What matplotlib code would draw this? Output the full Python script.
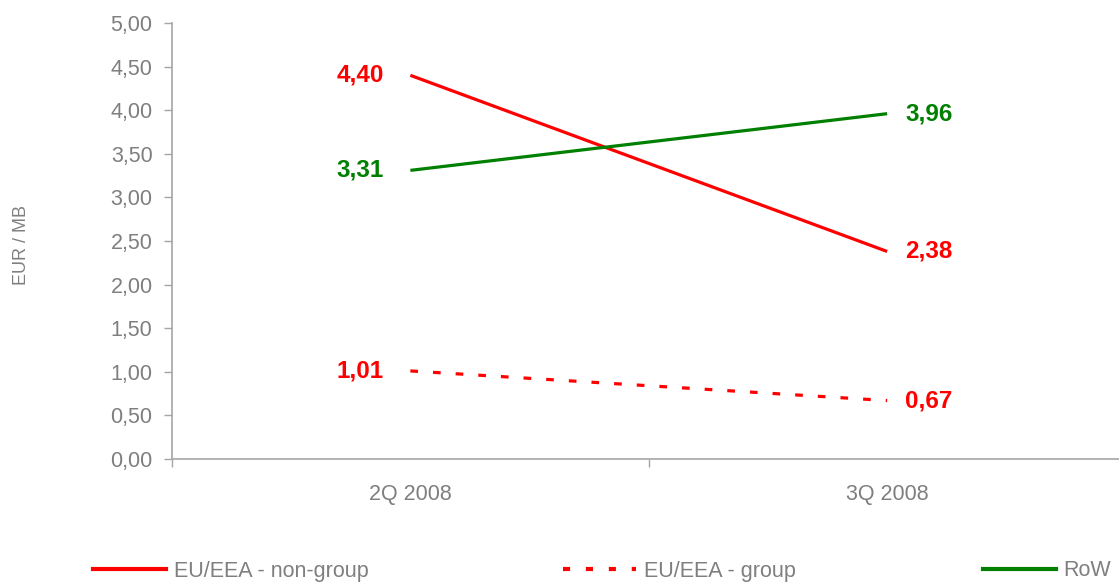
import matplotlib.pyplot as plt
from matplotlib.lines import Line2D

plt.rcParams['font.family'] = ['Liberation Sans', 'DejaVu Sans']

quarters = ['2Q 2008', '3Q 2008']
non_group = [4.40, 2.38]
group = [1.01, 0.67]
row = [3.31, 3.96]

RED = '#ff0000'
GREEN = '#008000'
GREY = '#7f7f7f'
AXIS = '#a6a6a6'

fig = plt.figure(figsize=(11.19, 5.84), dpi=100)
# axes runs off the right edge like in the original export
ax = fig.add_axes([172 / 1119, 1 - 459 / 584, (1125.5 - 172) / 1119, 436 / 584])

x = list(range(len(quarters)))
lw = 2.3
ax.plot(x, non_group, color=RED, lw=lw, solid_capstyle='butt')
ax.plot(x, group, color=RED, lw=lw, dashes=(2.4, 4.7), dash_capstyle='butt')
ax.plot(x, row, color=GREEN, lw=lw, solid_capstyle='butt')


def fmt(v):
    return f'{v:.2f}'.replace('.', ',')


for series, col in [(non_group, RED), (group, RED), (row, GREEN)]:
    ax.annotate(fmt(series[0]), (0, series[0]), xytext=(-19, 0), textcoords='offset points',
                ha='right', va='center', color=col, fontsize=17.5, fontweight='bold')
    ax.annotate(fmt(series[1]), (1, series[1]), xytext=(13, 0), textcoords='offset points',
                ha='left', va='center', color=col, fontsize=17.5, fontweight='bold')

ax.set_xlim(-0.5, 1.5)
ax.set_ylim(0, 5)
ax.set_yticks([i * 0.5 for i in range(11)])
ax.set_yticklabels([fmt(i * 0.5) for i in range(11)])
ax.set_xticks(x)
ax.set_xticklabels(quarters)
ax.set_xticks([-0.5, 0.5, 1.5], minor=True)
ax.tick_params(axis='x', which='major', length=0, pad=18, labelsize=15.5, labelcolor=GREY)
ax.tick_params(axis='x', which='minor', length=6, color=AXIS, width=1)
ax.tick_params(axis='y', length=6, color=AXIS, width=1, pad=8, labelsize=15.5, labelcolor=GREY)

for s in ['top', 'right']:
    ax.spines[s].set_visible(False)
for s in ['left', 'bottom']:
    ax.spines[s].set_color(AXIS)
    ax.spines[s].set_linewidth(1.2)

fig.text(22 / 1119, 1 - 245 / 584, 'EUR / MB', rotation=90, ha='center', va='center',
         color=GREY, fontsize=13)

# legend entries spread across the bottom
entries = [
    (Line2D([], [], color=RED, lw=3), 'EU/EEA - non-group', 93),
    (Line2D([], [], color=RED, lw=3, dashes=(1.7, 3.8), dash_capstyle='butt'), 'EU/EEA - group', 563),
    (Line2D([], [], color=GREEN, lw=3), 'RoW', 983),
]
for handle, label, px in entries:
    fig.legend([handle], [label], loc='center left', bbox_to_anchor=(px / 1119, 1 - 571 / 584),
               frameon=False, fontsize=15.5, labelcolor=GREY, handlelength=3.4, handletextpad=0.35,
               borderpad=0, borderaxespad=0)

fig.savefig('out.png', dpi=100)
